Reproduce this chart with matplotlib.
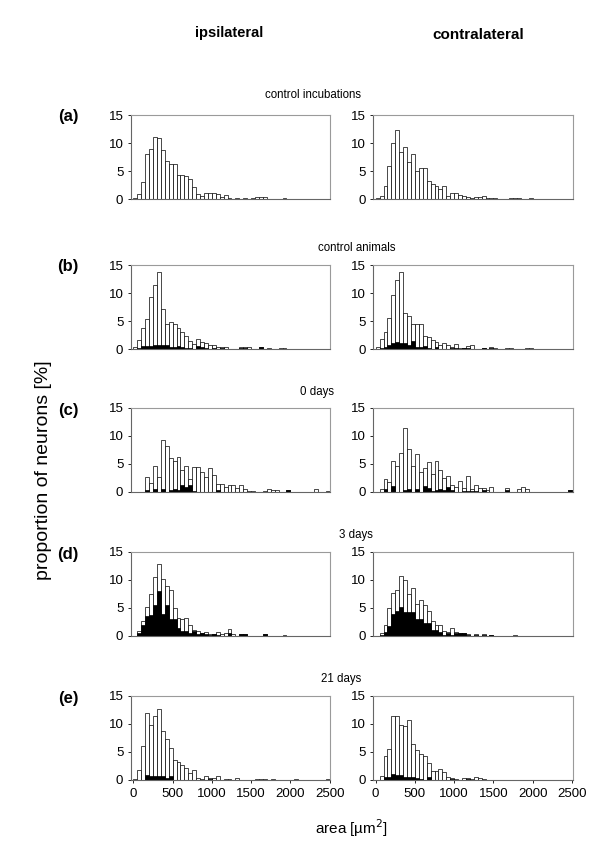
import numpy as np
import matplotlib
matplotlib.use("Agg")
import matplotlib.pyplot as plt

plt.rcParams['font.family'] = ['Liberation Sans', 'DejaVu Sans']

# bins of 50 um^2 from 0 to 2500
bin_edges = np.arange(0, 2500, 50)

a_ipsi_total = [0.2, 0.9, 3.1, 8.0, 8.9, 11.1, 10.9, 8.7, 6.7, 6.3, 6.3, 4.3, 4.3, 4.1, 3.5, 2.1,
                0.9, 0.6, 1.1, 1.0, 1.0, 0.9, 0.3, 0.8, 0.2, 0, 0.2, 0, 0.2, 0, 0.2, 0.3, 0.3, 0.3,
                0, 0, 0, 0, 0.2]
a_ipsi_marked = []
a_contra_total = [0.1, 0.5, 2.3, 5.9, 10.0, 12.3, 8.4, 9.3, 6.6, 8.1, 5.0, 5.6, 5.5, 3.2, 2.7, 2.3,
                  1.8, 2.4, 0.5, 1.0, 1.1, 0.7, 0.5, 0.4, 0.2, 0.3, 0.3, 0.45, 0.1, 0.1, 0.1, 0, 0,
                  0, 0.1, 0.1, 0.1, 0, 0, 0.1]
a_contra_marked = []

b_ipsi_total = [0.3, 1.6, 3.7, 5.4, 9.2, 11.4, 13.8, 7.1, 4.4, 4.9, 4.5, 3.7, 3.0, 2.3, 1.45, 0.9,
                1.8, 1.2, 1.0, 0.7, 0.8, 0.35, 0.3, 0.3, 0, 0, 0, 0.3, 0.3, 0.4, 0, 0, 0.3, 0, 0.15,
                0, 0, 0.2, 0.2]
b_ipsi_marked = [0, 0.2, 0.5, 0.6, 0.6, 0.7, 0.8, 0.8, 0.7, 0.4, 0.3, 0.6, 0.3, 0.2, 0.1, 0, 0.5,
                 0.3, 0.1, 0, 0.1, 0, 0.25, 0, 0, 0, 0, 0.2, 0.2, 0, 0, 0, 0.3]
b_contra_total = [0.3, 1.7, 3.0, 5.6, 9.6, 12.3, 13.8, 6.4, 5.9, 4.4, 4.5, 4.5, 2.3, 2.1, 1.6, 1.3,
                  0.7, 1.0, 0.7, 0.4, 0.9, 0.2, 0.2, 0.5, 0.7, 0, 0, 0.2, 0, 0.4, 0.2, 0, 0, 0.15,
                  0.15, 0, 0, 0, 0.2, 0.1]
b_contra_marked = [0, 0.1, 0.3, 0.8, 1.0, 1.2, 1.0, 1.1, 0.8, 1.4, 0.4, 0.4, 0.6, 0.2, 0, 0.3, 0,
                   0, 0, 0.1, 0.2, 0, 0.2, 0.2, 0, 0, 0, 0.2, 0, 0.15]

c_ipsi_total = [0, 0, 0, 2.6, 1.6, 4.6, 2.6, 9.3, 8.3, 6.0, 5.6, 6.3, 3.9, 4.7, 2.4, 4.5, 4.5, 3.6,
                2.7, 4.2, 3.0, 1.5, 1.5, 0.9, 1.3, 1.3, 0.8, 1.3, 0.55, 0.25, 0.25, 0, 0, 0.25, 0.6,
                0.3, 0.3, 0, 0, 0.3, 0, 0, 0, 0, 0, 0, 0.6, 0, 0, 0.2]
c_ipsi_marked = [0, 0, 0, 0.4, 0, 0.6, 0, 0.6, 0, 0.3, 0.6, 0.3, 1.2, 0.9, 1.2, 0.2, 0, 0, 0, 0, 0,
                 0.3, 0, 0, 0, 0, 0, 0, 0, 0, 0, 0, 0, 0, 0, 0, 0, 0, 0, 0.3]
c_contra_total = [0, 0.6, 2.3, 1.7, 5.6, 4.7, 7.0, 11.4, 7.6, 4.7, 6.8, 3.5, 4.2, 5.4, 3.3, 5.6,
                  3.9, 2.5, 2.9, 1.3, 0.9, 1.9, 0.7, 2.8, 0.45, 1.3, 0.7, 0.65, 0.3, 0.9, 0, 0, 0,
                  0.65, 0, 0, 0.45, 0.9, 0.6, 0, 0, 0, 0, 0, 0, 0, 0, 0, 0, 0.3]
c_contra_marked = [0, 0, 0.5, 0, 1.0, 0, 0, 0.3, 0.6, 0, 0.6, 0, 1.0, 0.8, 0.2, 0.3, 0.6, 0.3, 0.9,
                   0.3, 0, 0, 0.2, 0.2, 0.2, 0.2, 0, 0.3, 0, 0, 0, 0, 0, 0.3, 0, 0, 0, 0, 0, 0, 0,
                   0, 0, 0, 0, 0, 0, 0, 0, 0.3]

d_ipsi_total = [0, 0.9, 2.7, 5.2, 7.5, 10.6, 12.8, 10.2, 8.9, 8.2, 5.0, 3.2, 3.1, 3.2, 2.0, 1.0,
                0.9, 0.6, 0.8, 0.4, 0.3, 0.7, 0.3, 0.6, 1.2, 0.3, 0, 0.3, 0.3, 0, 0, 0, 0, 0.3, 0,
                0, 0, 0, 0.2]
d_ipsi_marked = [0, 0.5, 1.9, 3.5, 3.7, 5.5, 8.0, 3.9, 5.5, 3.1, 3.0, 1.5, 0.9, 0.9, 0.6, 0.9, 0.3,
                 0.5, 0.3, 0.15, 0.3, 0.2, 0, 0, 0.6, 0, 0, 0.3, 0.3, 0, 0, 0, 0, 0.3]
d_contra_total = [0, 0.5, 2.0, 5.0, 7.7, 8.3, 10.7, 10.0, 7.5, 8.5, 5.7, 6.5, 5.5, 4.5, 2.6, 2.0,
                  2.0, 0.9, 0.8, 1.5, 0.7, 0.55, 0.55, 0.4, 0, 0.3, 0, 0.3, 0, 0.2, 0, 0, 0, 0, 0,
                  0.15]
d_contra_marked = [0, 0.1, 0.7, 1.8, 3.9, 4.5, 5.1, 4.3, 4.3, 4.3, 3.0, 3.1, 2.3, 2.3, 1.0, 1.0,
                   0.8, 0.2, 0.55, 0.2, 0.45, 0.55, 0.55, 0.2, 0, 0.1, 0, 0.2, 0, 0.2]

e_ipsi_total = [0.1, 1.8, 6.1, 12.0, 9.8, 11.4, 12.7, 8.8, 7.3, 5.8, 3.5, 3.2, 2.7, 2.1, 1.2, 1.8,
                0.35, 0.2, 0.7, 0.4, 0.4, 0.8, 0, 0.1, 0.1, 0, 0.3, 0, 0, 0, 0, 0.1, 0.1, 0.1, 0,
                0.1, 0, 0, 0, 0, 0, 0.1, 0, 0, 0, 0, 0, 0, 0, 0.1]
e_ipsi_marked = [0, 0, 0, 0.9, 0.8, 0.7, 0.8, 0.8, 0.4, 0.8, 0, 0, 0, 0, 0, 0, 0, 0, 0, 0.2]
e_contra_total = [0, 0.7, 4.3, 5.5, 11.4, 11.5, 9.9, 9.7, 10.7, 6.5, 5.3, 4.7, 4.3, 3.1, 1.6, 1.6,
                  2.0, 1.4, 0.6, 0.3, 0.2, 0, 0.3, 0.3, 0.15, 0.5, 0.35, 0.15]
e_contra_marked = [0, 0, 0.5, 0.5, 1.0, 0.9, 0.9, 0.6, 0.6, 0.6, 0.4, 0.2, 0, 0.5, 0, 0, 0, 0, 0,
                   0.2, 0, 0, 0, 0.2]

panel_labels = ['(a)', '(b)', '(c)', '(d)', '(e)']
section_titles = ['control incubations', 'control animals', '0 days', '3 days', '21 days']
section_x = [313, 357, 317, 356, 341]
section_y = [95, 248, 392, 535, 679]
x_ticks = [0, 500, 1000, 1500, 2000, 2500]
y_ticks = [0, 5, 10, 15]

rows = [
    (a_ipsi_total, a_ipsi_marked, a_contra_total, a_contra_marked),
    (b_ipsi_total, b_ipsi_marked, b_contra_total, b_contra_marked),
    (c_ipsi_total, c_ipsi_marked, c_contra_total, c_contra_marked),
    (d_ipsi_total, d_ipsi_marked, d_contra_total, d_contra_marked),
    (e_ipsi_total, e_ipsi_marked, e_contra_total, e_contra_marked),
]


def pad(vals):
    out = np.zeros(len(bin_edges))
    out[:len(vals)] = vals
    return out


W, H = 600, 859
fig = plt.figure(figsize=(W / 100, H / 100), dpi=100)

col_left = [131, 373.3]
ax_w = 199.4
ax_h = 84
baselines = [199, 349, 492, 636, 780]
frame_col = '#9a9a9a'


def draw_hist(ax, total, marked, last_row):
    total = pad(total)
    marked = pad(marked)
    m = total > 0
    ax.bar(bin_edges[m], total[m], width=50, align='edge', color='white',
           edgecolor='black', linewidth=0.5)
    m2 = marked > 0
    ax.bar(bin_edges[m2], marked[m2], width=50, align='edge', color='black',
           edgecolor='black', linewidth=0.5)
    ax.set_xlim(-30, 2510)
    ax.set_ylim(0, 15)
    ax.set_yticks(y_ticks)
    ax.set_xticks(x_ticks)
    ax.tick_params(direction='out', length=2.5, width=0.6, colors='black',
                   labelsize=9.5, pad=3)
    if not last_row:
        ax.tick_params(axis='x', length=0, labelbottom=False)
    for s in ax.spines.values():
        s.set_color(frame_col)
        s.set_linewidth(0.8)
    ax.spines['bottom'].set_color('#666666')
    ax.spines['left'].set_color('#666666')


for i, (it, im, ct, cm) in enumerate(rows):
    b = baselines[i]
    for j, (tot, mk) in enumerate([(it, im), (ct, cm)]):
        ax = fig.add_axes([col_left[j] / W, 1 - b / H, ax_w / W, ax_h / H])
        draw_hist(ax, tot, mk, i == len(rows) - 1)
    top = b - ax_h
    fig.text(68 / W, 1 - (top + 2) / H, panel_labels[i], fontsize=12, fontweight='bold',
             ha='center', va='center')
    fig.text(section_x[i] / W, 1 - section_y[i] / H, section_titles[i], fontsize=8.3,
             ha='center', va='center')

fig.text(229 / W, 1 - 33 / H, 'ipsilateral', fontsize=10.5, fontweight='bold',
         ha='center', va='center')
fig.text(478 / W, 1 - 35 / H, 'contralateral', fontsize=11, fontweight='bold',
         ha='center', va='center')
fig.text(44 / W, 1 - 470 / H, 'proportion of neurons [%]', fontsize=14,
         rotation=90, ha='center', va='center')
fig.text(352 / W, 1 - 828 / H, 'area [µm$^2$]', fontsize=11, ha='center', va='center')

fig.savefig('out.png', dpi=100)
